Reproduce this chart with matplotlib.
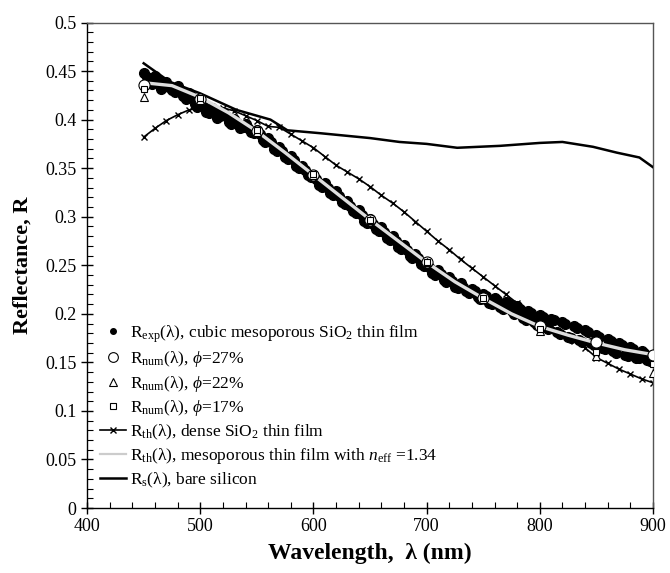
import numpy as np
import matplotlib
matplotlib.use("Agg")
import matplotlib.pyplot as plt
from matplotlib.ticker import MultipleLocator
from matplotlib.lines import Line2D

plt.rcParams['font.family'] = ['Liberation Serif', 'DejaVu Serif']
plt.rcParams['mathtext.fontset'] = 'custom'
plt.rcParams['mathtext.rm'] = 'Liberation Serif'
plt.rcParams['mathtext.it'] = 'Liberation Serif:italic'
plt.rcParams['mathtext.bf'] = 'Liberation Serif:bold'

# experimental reflectance, read every 5 nm ...
wl_exp = np.arange(450, 901, 5)
r_exp = [0.448, 0.440, 0.445, 0.432, 0.439, 0.431, 0.435, 0.424, 0.427, 0.416,
         0.418, 0.408, 0.412, 0.402, 0.408, 0.398, 0.401, 0.391, 0.395, 0.387,
         0.389, 0.379, 0.381, 0.370, 0.372, 0.362, 0.363, 0.352, 0.352, 0.343,
         0.343, 0.333, 0.335, 0.324, 0.326, 0.315, 0.316, 0.306, 0.307, 0.296,
         0.298, 0.287, 0.289, 0.278, 0.280, 0.269, 0.271, 0.260, 0.262, 0.251,
         0.253, 0.242, 0.245, 0.235, 0.238, 0.228, 0.232, 0.223, 0.226, 0.217,
         0.220, 0.211, 0.216, 0.207, 0.212, 0.203, 0.208, 0.196, 0.203, 0.192,
         0.199, 0.186, 0.195, 0.181, 0.192, 0.176, 0.187, 0.173, 0.183, 0.170,
         0.178, 0.165, 0.174, 0.162, 0.170, 0.158, 0.166, 0.155, 0.162, 0.152,
         0.158]
# ... and the points in between (452.5, 457.5, ...)
wl_exp_mid = np.arange(452.5, 900, 5)
r_exp_mid = [0.444, 0.437, 0.441, 0.436, 0.434, 0.428, 0.431, 0.421, 0.423, 0.413,
             0.415, 0.407, 0.410, 0.404, 0.404, 0.396, 0.397, 0.392, 0.391, 0.386,
             0.385, 0.377, 0.377, 0.368, 0.368, 0.359, 0.358, 0.350, 0.348, 0.341,
             0.339, 0.331, 0.330, 0.322, 0.321, 0.313, 0.311, 0.304, 0.302, 0.294,
             0.293, 0.285, 0.284, 0.276, 0.275, 0.267, 0.266, 0.258, 0.257, 0.249,
             0.248, 0.240, 0.241, 0.233, 0.234, 0.227, 0.228, 0.221, 0.223, 0.215,
             0.218, 0.210, 0.214, 0.205, 0.210, 0.200, 0.205, 0.194, 0.201, 0.189,
             0.197, 0.184, 0.194, 0.179, 0.190, 0.175, 0.185, 0.171, 0.181, 0.168,
             0.176, 0.164, 0.172, 0.160, 0.168, 0.157, 0.164, 0.154, 0.160, 0.151]

# numerical reflectance, every 50 nm
wl_num = [450, 500, 550, 600, 650, 700, 750, 800, 850, 900]
r_num27 = [0.436, 0.421, 0.388, 0.343, 0.297, 0.253, 0.216, 0.187, 0.171, 0.158]
r_num22 = [0.423, 0.420, 0.387, 0.343, 0.297, 0.253, 0.215, 0.182, 0.157, 0.139]
r_num17 = [0.432, 0.422, 0.389, 0.344, 0.297, 0.253, 0.216, 0.184, 0.161, 0.148]

# theoretical, dense SiO2 film, every 10 nm
wl_dense = np.arange(450, 901, 10)
r_dense = [0.382, 0.391, 0.399, 0.405, 0.410, 0.412, 0.413, 0.412, 0.409, 0.404,
           0.399, 0.393, 0.392, 0.385, 0.378, 0.371, 0.362, 0.353, 0.346, 0.339,
           0.331, 0.322, 0.314, 0.305, 0.295, 0.285, 0.275, 0.266, 0.256, 0.247,
           0.238, 0.229, 0.220, 0.211, 0.203, 0.195, 0.188, 0.179, 0.172, 0.165,
           0.155, 0.149, 0.143, 0.138, 0.133, 0.129]

# theoretical, mesoporous film n_eff = 1.34, every 25 nm
wl_meso = np.arange(450, 901, 25)
r_meso = [0.438, 0.435, 0.423, 0.407, 0.388, 0.366, 0.343, 0.320, 0.297, 0.275,
          0.253, 0.233, 0.216, 0.200, 0.187, 0.178, 0.170, 0.163, 0.158]

# bare silicon
wl_si = [450, 473, 500, 532, 562, 577, 606, 650, 676, 700, 727, 765, 800, 820,
         847, 868, 888, 900]
r_si = [0.458, 0.439, 0.427, 0.410, 0.400, 0.389, 0.386, 0.381, 0.377, 0.375,
        0.371, 0.373, 0.376, 0.377, 0.372, 0.366, 0.361, 0.351]

fig = plt.figure(figsize=(6.7, 5.73), dpi=100)
ax = fig.add_axes([0.13, 0.1134, 0.8446, 0.8473])

ax.plot(wl_dense, r_dense, color='black', lw=1.2, marker='x', ms=5, mew=1.0, zorder=2)
ax.plot(wl_si, r_si, color='black', lw=1.8, zorder=3)
ax.plot(np.concatenate([wl_exp, wl_exp_mid]), r_exp + r_exp_mid, 'o',
        color='black', ms=7, zorder=4)
ax.plot(wl_meso, r_meso, color='#dedede', lw=2.4, zorder=5)
ax.plot(wl_num, r_num27, 'o', mfc='white', mec='black', ms=8, mew=0.8, zorder=6)
ax.plot(wl_num, r_num22, '^', mfc='white', mec='black', ms=6, mew=0.8, zorder=7)
ax.plot(wl_num, r_num17, 's', mfc='white', mec='black', ms=5, mew=0.8, zorder=8)

ax.set_xlim(400, 900)
ax.set_ylim(0, 0.5)
ax.xaxis.set_major_locator(MultipleLocator(100))
ax.xaxis.set_minor_locator(MultipleLocator(20))
ax.yaxis.set_minor_locator(MultipleLocator(0.01))
ax.set_yticks([0, 0.05, 0.1, 0.15, 0.2, 0.25, 0.3, 0.35, 0.4, 0.45, 0.5])
ax.set_yticklabels(['0', '0.05', '0.1', '0.15', '0.2', '0.25', '0.3', '0.35',
                    '0.4', '0.45', '0.5'])
ax.tick_params(which='major', direction='inout', length=8, width=1, labelsize=13,
               top=False, right=False)
ax.tick_params(which='minor', direction='in', length=4, width=0.8,
               top=False, right=False)
for s in ax.spines.values():
    s.set_linewidth(1.0)
ax.spines['right'].set_color('#555555')
ax.spines['top'].set_color('#555555')

ax.set_xlabel('Wavelength,  λ (nm)', fontsize=17, fontweight='bold', labelpad=5)
ax.set_ylabel('Reflectance, R', fontsize=16, fontweight='bold', labelpad=9)

handles = [
    Line2D([], [], ls='none', marker='o', color='black', ms=4),
    Line2D([], [], ls='none', marker='o', mfc='white', mec='black', ms=7, mew=0.8),
    Line2D([], [], ls='none', marker='^', mfc='white', mec='black', ms=6, mew=0.8),
    Line2D([], [], ls='none', marker='s', mfc='white', mec='black', ms=5, mew=0.8),
    Line2D([], [], color='black', lw=1.2, marker='x', ms=5),
    Line2D([], [], color='#cccccc', lw=1.6),
    Line2D([], [], color='black', lw=1.8),
]
labels = [
    r'R$_{\mathrm{exp}}$(λ), cubic mesoporous SiO$_2$ thin film',
    r'R$_{\mathrm{num}}$(λ), $\phi$=27%',
    r'R$_{\mathrm{num}}$(λ), $\phi$=22%',
    r'R$_{\mathrm{num}}$(λ), $\phi$=17%',
    r'R$_{\mathrm{th}}$(λ), dense SiO$_2$ thin film',
    r'R$_{\mathrm{th}}$(λ), mesoporous thin film with $n_{\mathrm{eff}}$ =1.34',
    r'R$_{\mathrm{s}}$(λ), bare silicon',
]
ax.legend(handles, labels, loc='lower left', bbox_to_anchor=(0.0, 0.01),
          frameon=False, fontsize=12.5, handlelength=1.5, handletextpad=0.2,
          labelspacing=0.26, borderaxespad=0.45, borderpad=0.3)

fig.savefig('out.png', dpi=100)
